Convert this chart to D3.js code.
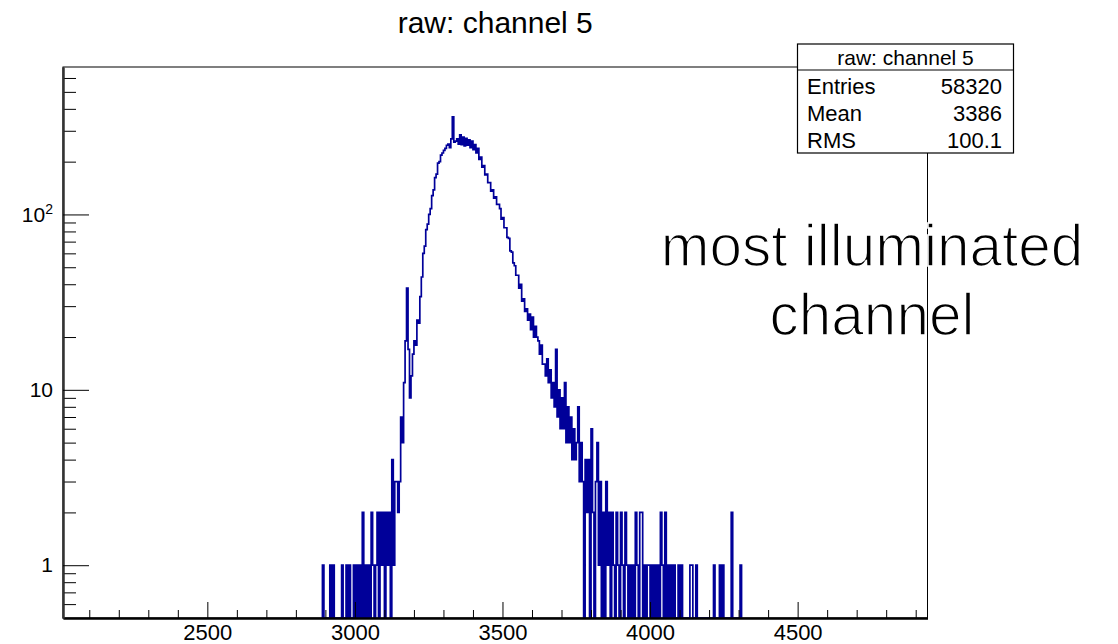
<!DOCTYPE html>
<html>
<head>
<meta charset="utf-8">
<script src="https://cdn.jsdelivr.net/npm/d3@7"></script>
<style>
  html, body { margin: 0; padding: 0; background: #fff; }
  svg { display: block; }
  text { font-family: "Liberation Sans", Arial, Helvetica, sans-serif; fill: #000; }
</style>
</head>
<body>
<svg id="chart" width="1118" height="644"></svg>
<script>
// ---------------- data ----------------
const title = "raw: channel 5";
const binLow = 2890;      // lower edge of first listed bin (ADC counts)
const binWidth = 5;       // bin width (ADC counts)
const counts = [
  1,0,0,0,0,1,0,1,0,0,
  0,0,0,1,0,0,1,0,1,0,
  0,1,0,1,0,1,0,2,0,1,
  0,1,0,2,1,0,1,2,0,2,
  1,2,0,2,1,2,0,4,1,3,
  3,2,3,7,5,11,19,38,17,9,
  12,16,19,18,25,24,34,44,60,66,
  82,88,100,108,128,138,162,170,196,200,
  218,224,232,238,248,252,240,270,360,258,
  262,270,252,284,250,276,246,272,248,266,
  240,262,234,250,224,238,206,212,186,190,
  168,170,152,152,136,138,124,126,114,114,
  108,94,96,84,84,74,73,62,61,53,
  51,45,45,38,40,32,33,28,29,25,
  27,22,26,20,23,20,19,16,18,14,
  14,12,15,11,13,9,11,8,17,7,
  10,6,9,6,11,5,8,5,7,4,
  6,4,5,8,3,5,3,0,4,2,
  4,0,6,2,0,3,5,1,3,0,
  2,0,3,1,2,0,2,1,0,2,
  1,0,2,1,0,2,1,0,1,0,
  1,0,2,1,0,2,2,0,1,0,
  1,1,0,1,0,1,0,1,0,2,
  1,0,2,0,1,0,1,0,1,0,
  0,1,0,1,0,0,0,0,0,1,
  1,0,0,1,0,0,0,0,0,0,
  0,0,0,0,0,1,0,0,0,1,
  0,1,0,0,0,0,0,2,0,0,
  0,0,0,1
];
const xDomain = [2011, 4940];
const yDomain = [0.5, 693];
const xMajorTicks = [2500, 3000, 3500, 4000, 4500];
const xMinorTicks = [2100,2200,2300,2400,2600,2700,2800,2900,3100,3200,3300,3400,3600,3700,3800,3900,
                     4100,4200,4300,4400,4600,4700,4800,4900];
const yMajorTicks = [1, 10, 100];
const yMajorLabels = ["1", "10", "10|2"];
const yMinorTicks = [0.6,0.7,0.8,0.9,2,3,4,5,6,7,8,9,20,30,40,50,60,70,80,90,200,300,400,500,600];
const statsTitle = "raw: channel 5";
const statsNames = ["Entries", "Mean", "RMS"];
const statsValues = ["58320", "3386", "100.1"];
const noteLines = ["most illuminated", "channel"];

// ---------------- layout ----------------
const frame = { left: 63, right: 927.5, top: 67, bottom: 618 };
const svg = d3.select("#chart");

const x = d3.scaleLinear().domain(xDomain).range([frame.left, frame.right]);
const y = d3.scaleLog().domain(yDomain).range([frame.bottom, frame.top]);

// frame background
svg.append("rect")
  .attr("x", frame.left).attr("y", frame.top)
  .attr("width", frame.right - frame.left).attr("height", frame.bottom - frame.top)
  .attr("fill", "#fff").attr("stroke", "#000").attr("stroke-width", 1);

// clip
svg.append("clipPath").attr("id", "clip").append("rect")
  .attr("x", frame.left).attr("y", frame.top)
  .attr("width", frame.right - frame.left).attr("height", frame.bottom - frame.top);

// histogram step path
const pts = [];
const yBottom = yDomain[0];
pts.push([binLow, yBottom]);
counts.forEach((c, i) => pts.push([binLow + i * binWidth, Math.max(c, yBottom)]));
const hiEdge = binLow + counts.length * binWidth;
pts.push([hiEdge, Math.max(counts[counts.length - 1], yBottom)]);
pts.push([hiEdge, yBottom]);

const line = d3.line()
  .x(d => x(d[0]))
  .y(d => y(d[1]))
  .curve(d3.curveStepAfter);

svg.append("path")
  .attr("clip-path", "url(#clip)")
  .attr("d", line(pts))
  .attr("fill", "none")
  .attr("stroke", "#000099")
  .attr("stroke-width", 1.7)
  .attr("stroke-linejoin", "miter");

// axes
const gx = svg.append("g").attr("transform", `translate(0,${frame.bottom})`);
gx.call(d3.axisBottom(x).tickValues(xMinorTicks).tickSize(-8).tickSizeOuter(0).tickFormat(""));
gx.append("g").call(d3.axisBottom(x).tickValues(xMajorTicks).tickSize(-16).tickSizeOuter(0)
  .tickPadding(6).tickFormat(d3.format("d")));
gx.selectAll("text").attr("font-size", 22).attr("fill", "#000")
  .attr("font-family", '"Liberation Sans", Arial, sans-serif');
gx.selectAll(".domain").attr("stroke-width", 2);

const gy = svg.append("g").attr("transform", `translate(${frame.left},0)`);
gy.call(d3.axisLeft(y).tickValues(yMinorTicks).tickSize(-13).tickSizeOuter(0).tickFormat(""));
const gyMaj = gy.append("g").call(d3.axisLeft(y).tickValues(yMajorTicks).tickSize(-26).tickSizeOuter(0)
  .tickPadding(10).tickFormat(() => ""));
gyMaj.selectAll(".tick text").each(function(d, i) {
  const t = d3.select(this)
    .attr("font-size", 21).attr("fill", "#000")
    .attr("font-family", '"Liberation Sans", Arial, sans-serif');
  const parts = yMajorLabels[i].split("|");
  t.text(null);
  t.append("tspan").text(parts[0]);
  if (parts[1]) {
    t.append("tspan").attr("font-size", 14).attr("dy", "-0.55em").text(parts[1]);
  }
});
gy.selectAll(".domain").attr("stroke-width", 2).attr("stroke", "#333");

// title
svg.append("text")
  .attr("x", (frame.left + frame.right) / 2).attr("y", 33)
  .attr("text-anchor", "middle").attr("font-size", 30)
  .text(title);

// stats box
const box = { left: 797.5, right: 1013.5, top: 44, head: 70, bottom: 153 };
svg.append("rect")
  .attr("x", box.left).attr("y", box.top)
  .attr("width", box.right - box.left).attr("height", box.bottom - box.top)
  .attr("fill", "#fff").attr("stroke", "#000").attr("stroke-width", 1.2);
svg.append("line")
  .attr("x1", box.left).attr("x2", box.right).attr("y1", box.head).attr("y2", box.head)
  .attr("stroke", "#000").attr("stroke-width", 1.2);
svg.append("text")
  .attr("x", (box.left + box.right) / 2).attr("y", 65)
  .attr("text-anchor", "middle").attr("font-size", 21)
  .text(statsTitle);
const rowY = d3.scalePoint().domain(statsNames).range([94, 148]);
statsNames.forEach((n, i) => {
  svg.append("text").attr("x", 807).attr("y", rowY(n)).attr("font-size", 22).text(n);
  svg.append("text").attr("x", 1002).attr("y", rowY(n)).attr("text-anchor", "end")
    .attr("font-size", 22).text(statsValues[i]);
});

// annotation (thin, light-weight look)
const noteY = d3.scalePoint().domain(noteLines).range([266, 335]);
noteLines.forEach(s => {
  svg.append("text")
    .attr("x", 872).attr("y", noteY(s))
    .attr("text-anchor", "middle")
    .attr("font-family", '"Liberation Sans", Arial, sans-serif')
    .attr("font-size", 58.5)
    .attr("fill", "#111")
    .attr("stroke", "#fff")
    .attr("stroke-width", 1.6)
    .attr("paint-order", "fill")
    .text(s);
});
</script>
</body>
</html>
